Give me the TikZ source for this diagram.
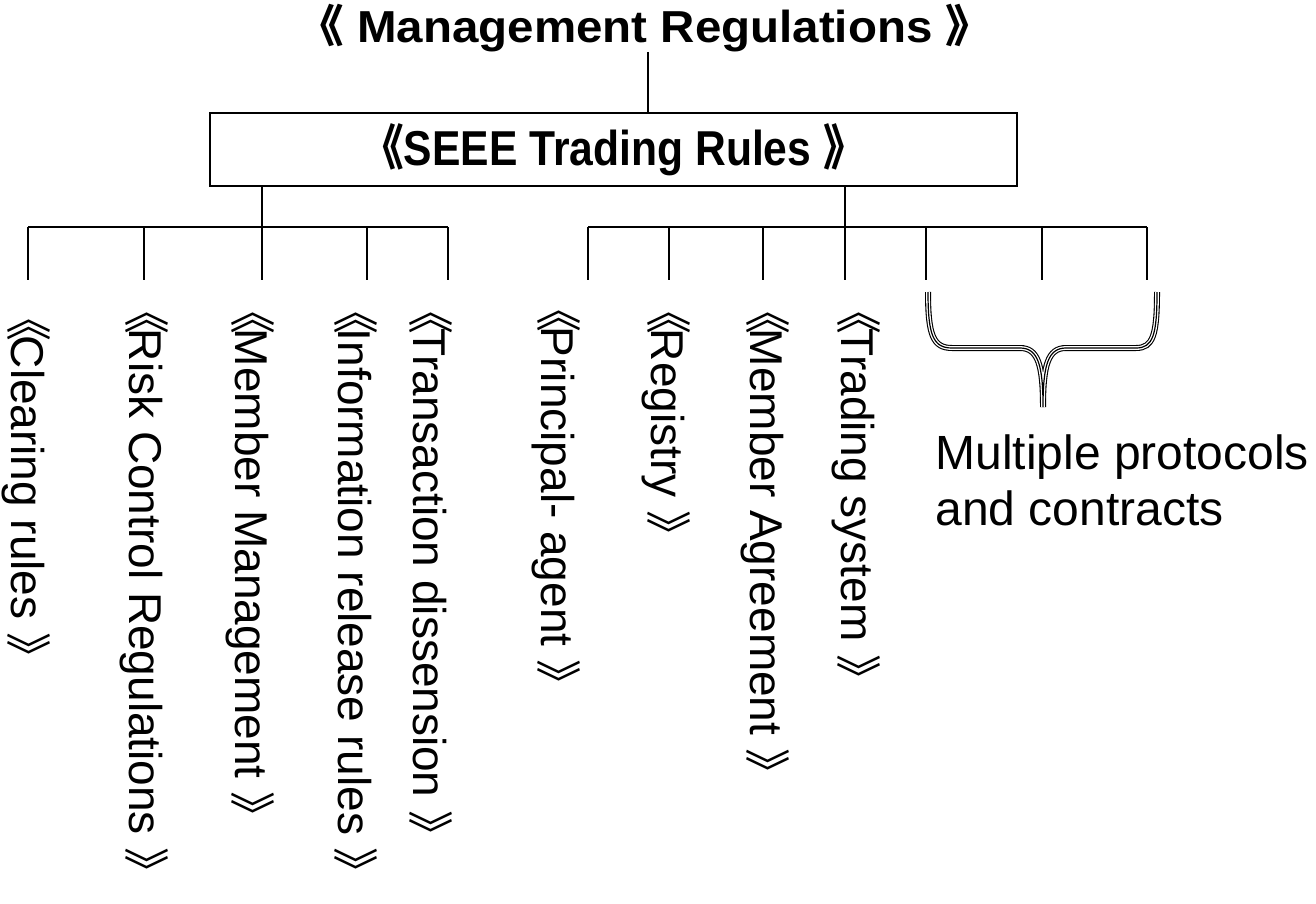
\documentclass[tikz,border=0pt]{standalone}
\usepackage{fontspec}
\usepackage{graphicx}
\setmainfont{Liberation Sans}
\newfontfamily\cjk{Noto Sans CJK SC}
\usetikzlibrary{positioning}
\newcommand\lbk{{\cjk 《}}
\newcommand\lbkin{{\cjk 《}\kern-0.12em}
\newcommand\rbk{{\cjk 》}}

\begin{document}
\begin{tikzpicture}[x=0.5pt, y=-0.5pt,
    title/.style={inner sep=0pt, font=\fontsize{22.4}{26}\selectfont\bfseries},
    rulebox/.style={draw, line width=1pt, minimum width=403.5pt, minimum height=36.5pt,
      inner sep=0pt, font=\fontsize{24.5}{28}\selectfont\bfseries},
    doc/.style={rotate=-90, anchor=base west, inner sep=0pt, font=\fontsize{23}{27}\selectfont},
    note/.style={anchor=north west, inner sep=0pt, align=left,
      font=\fontsize{24}{28}\selectfont},
    link/.style={line width=1pt},
    brace/.style={line width=0.6pt, preaction={draw, line width=3pt},
      preaction={draw, white, line width=1.9pt}}]
  \useasboundingbox (0,0) rectangle (1316,904);
  \fill[white] (0,0) rectangle (1316,904);

  % top of the tree
  \node[title, anchor=base] (mgmt) at (645,43) {\scalebox{1.06}[1]{\lbk\ Management Regulations \rbk}};
  \node[rulebox] (rules) at (613.5,149.5) {\scalebox{0.87}[1]{\lbk SEEE Trading Rules \rbk}};
  \coordinate (top) at (648,52);
  \draw[link] (top) -- (top |- rules.north);

  % left branch
  \foreach \x [count=\i] in {28,144,262,367,448} {
    \coordinate (lt\i) at (\x,227);
    \coordinate (lb\i) at (\x,280);
    \draw[link] (lt\i) -- (lb\i);
  }
  \draw[link] (lt1) -- (lt5);
  \draw[link] (rules.south -| lt3) -- (lt3);

  % right branch
  \foreach \x [count=\i] in {588,669,763,845,926,1042,1147} {
    \coordinate (rt\i) at (\x,227);
    \coordinate (rb\i) at (\x,280);
    \draw[link] (rt\i) -- (rb\i);
  }
  \draw[link] (rt1) -- (rt7);
  \draw[link] (rules.south -| rt4) -- (rt4);

  % documents
  \node[doc] (clearing) at (11,295) {\lbkin Clearing rules \rbk};
  \node[doc] (risk) at (129.5,288) {\lbkin Risk Control Regulations \rbk};
  \node[doc] (member) at (235.5,288) {\lbkin Member Management \rbk};
  \node[doc] (info) at (338.5,288) {\lbkin Information release rules \rbk};
  \node[doc] (dissension) at (413.5,288) {\lbkin Transaction dissension \rbk};
  \node[doc] (principal) at (541.5,286) {\lbkin Principal- agent \rbk};
  \node[doc] (registry) at (651.5,288) {\lbkin Registry \rbk};
  \node[doc] (agreement) at (750.5,288) {\lbkin Member Agreement \rbk};
  \node[doc] (system) at (841.5,288) {\lbkin Trading system \rbk};

  % protocols
  \draw[brace] (928,292) .. controls (928,335) and (933,348) .. (952,348) -- (1020,348)
    .. controls (1038,348) and (1043,365) .. (1043,407)
    .. controls (1043,365) and (1048,348) .. (1066,348) -- (1136,348)
    .. controls (1153,348) and (1157,335) .. (1157,292);
  \node[note] (multi) at (935,434) {Multiple protocols\\and contracts};
\end{tikzpicture}
\end{document}
